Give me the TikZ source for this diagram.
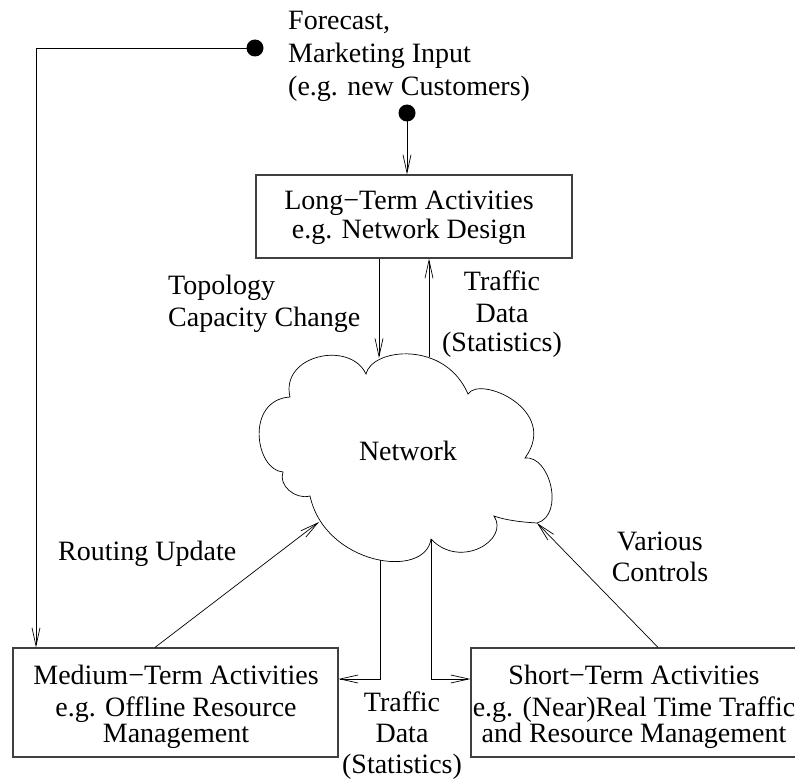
\documentclass[tikz,border=0pt]{standalone}
\usepackage{fontspec}
\setmainfont{Liberation Serif}
\usetikzlibrary{arrows.meta}
\newcommand{\fs}[1]{\fontsize{28}{#1}\selectfont}
\begin{document}
\begin{tikzpicture}[x=1pt,y=-1pt,
  every node/.style={font=\fs{31}, inner sep=0pt},
  box/.style={draw=black!75, line width=1.2pt},
  conn/.style={line width=0.7pt, -{Straight Barb[length=18pt,width=8pt]}},
  plain/.style={line width=0.7pt},
  lbl/.style={align=center},
  dot/.style={circle, fill=black, minimum size=17pt, inner sep=0pt}
]
\useasboundingbox (0,0) rectangle (795,781);
\clip (0,0) rectangle (795,781);

% boxes
\node[box, minimum width=316pt, minimum height=83pt] (lt) at (414,216.5) {};
\node[box, minimum width=325pt, minimum height=109pt] (mt) at (175.4,702.5) {};
\node[box, minimum width=328pt, minimum height=109pt] (st) at (635,702.5) {};
\node[lbl, anchor=north, font=\fs{29}] (ltx) at (409,191) {Long−Term Activities\\e.g. Network Design};
\node[lbl, anchor=north, font=\fs{32}] (mtx) at (176,665) {Medium−Term Activities\\e.g. Offline Resource\\[-6pt]Management};
\node[lbl, anchor=north, font=\fs{32}] (stx) at (634,665) {Short−Term Activities\\e.g. (Near)Real Time Traffic\\[-6pt]and Resource Management};

% cloud
\coordinate (cA) at (366,374);
\coordinate (cB) at (468,394);
\coordinate (cC) at (525,458);
\coordinate (cD) at (537,523);
\coordinate (cE) at (494,516);
\coordinate (cF) at (431,539);
\coordinate (cG) at (310,496);
\coordinate (cH) at (283,472);
\coordinate (cI) at (290,397);
\draw[plain] (cA) .. controls (372,348) and (445,340) .. (cB)
  .. controls (480,375) and (560,410) .. (cC)
  .. controls (550,455) and (565,515) .. (cD)
  .. controls (520,522) and (505,520) .. (cE)
  .. controls (510,540) and (460,570) .. (cF)
  .. controls (425,580) and (325,565) .. (cG)
  .. controls (295,500) and (278,485) .. (cH)
  .. controls (255,470) and (245,400) .. (cI)
  .. controls (280,355) and (350,340) .. cycle;
\coordinate (cTopL) at (379,358);
\coordinate (cTopR) at (429,357);
\coordinate (cBotL) at (380,560);
\coordinate (cRU) at (319,522);
\node (net) [anchor=base] at (408,460) {Network};

% dots and input
\node[dot] (d1) at (255,48) {};
\node[dot] (d2) at (407,113) {};
\coordinate (corner) at (36,48);
\node[lbl, anchor=north west, align=left, font=\fs{33}] (fc) at (288,10.5) {Forecast,\\Marketing Input\\(e.g. new Customers)};

% connectors
\draw[conn] (d1.center) -- (corner) -- (corner |- mt.north);
\draw[conn] (d2.center) -- (d2.center |- lt.north);
\draw[conn] (lt.south -| cTopL) -- (cTopL);
\draw[conn] (cTopR) -- (cTopR |- lt.south);
\coordinate (bl) at (380,679);
\coordinate (br) at (431,679);
\draw[conn] (cBotL) -- (bl) -- (bl -| mt.east);
\draw[conn] (cF) -- (br) -- (br -| st.west);
\draw[conn] (mt.north -| 155,0) -- (cRU);
\draw[conn] (st.north -| 658,0) -- (cD);

% labels
\node[lbl, anchor=north west, align=left, font=\fs{32}] (topo) at (168,275) {Topology\\Capacity Change};
\node[lbl, anchor=north, font=\fs{32}] (td1) at (502,271) {Traffic\\Data\\[-3pt](Statistics)};
\node[anchor=base west] (ru) at (58,560) {Routing Update};
\node[lbl, anchor=north] (vc) at (660,532) {Various\\Controls};
\node[lbl, anchor=north] (td2) at (402,692) {Traffic\\Data\\(Statistics)};
\end{tikzpicture}
\end{document}
